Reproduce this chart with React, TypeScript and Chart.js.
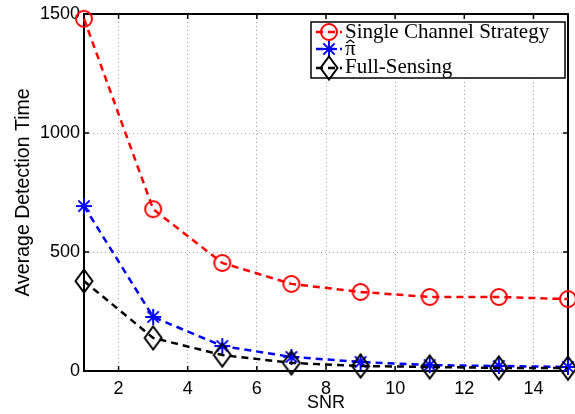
import React, { useEffect, useRef } from "react";
import { Chart, registerables } from "chart.js";

Chart.register(...registerables);

// SNR sample points and average detection times per strategy
const snr = [1, 3, 5, 7, 9, 11, 13, 15];
const singleChannel = [1480, 680, 454, 366, 332, 311, 311, 302];
const piHat = [693, 227, 105, 59, 38, 25, 21, 17];
const fullSensing = [378, 139, 67, 34, 21, 17, 13, 12];

const xTicks = [2, 4, 6, 8, 10, 12, 14];
const yTicks = [0, 500, 1000, 1500];
const seriesNames = ["Single Channel Strategy", "\u03C0", "Full-Sensing"];

const RED = "#ff0000";
const BLUE = "#0000ff";
const BLACK = "#000000";
const SANS = "'Liberation Sans', Arial, sans-serif";
const SERIF = "'Liberation Serif', 'DejaVu Serif', serif";

function sprite(w: number, h: number, paint: (g: CanvasRenderingContext2D) => void) {
  const c = document.createElement("canvas");
  c.width = w;
  c.height = h;
  const g = c.getContext("2d")!;
  g.lineWidth = 2;
  paint(g);
  return c;
}

// open circle marker
const makeCircle = () =>
  sprite(20, 20, (g) => {
    g.strokeStyle = RED;
    g.beginPath();
    g.arc(10, 10, 8, 0, Math.PI * 2);
    g.stroke();
  });

// eight-ray asterisk marker
const makeStar = () =>
  sprite(20, 20, (g) => {
    g.strokeStyle = BLUE;
    const r = 8;
    const d = r * Math.SQRT1_2;
    g.beginPath();
    g.moveTo(10 - r, 10); g.lineTo(10 + r, 10);
    g.moveTo(10, 10 - r); g.lineTo(10, 10 + r);
    g.moveTo(10 - d, 10 - d); g.lineTo(10 + d, 10 + d);
    g.moveTo(10 - d, 10 + d); g.lineTo(10 + d, 10 - d);
    g.stroke();
  });

// tall open diamond marker
const makeDiamond = () =>
  sprite(22, 28, (g) => {
    g.strokeStyle = BLACK;
    g.beginPath();
    g.moveTo(11, 2.5);
    g.lineTo(19.5, 14);
    g.lineTo(11, 25.5);
    g.lineTo(2.5, 14);
    g.closePath();
    g.stroke();
  });

export default function App() {
  const ref = useRef<HTMLCanvasElement | null>(null);

  useEffect(() => {
    const canvas = ref.current;
    if (!canvas) return;
    const circle = makeCircle();
    const star = makeStar();
    const diamond = makeDiamond();

    // axes box with inward ticks on all four sides
    const framePlugin = {
      id: "frame",
      beforeDatasetsDraw(chart: any) {
        const { ctx, chartArea: a, scales } = chart;
        ctx.save();
        ctx.strokeStyle = BLACK;
        ctx.lineWidth = 2;
        ctx.strokeRect(a.left, a.top, a.right - a.left, a.bottom - a.top);
        ctx.lineWidth = 1.5;
        ctx.beginPath();
        const tl = 5;
        for (const v of xTicks) {
          const px = scales.x.getPixelForValue(v);
          ctx.moveTo(px, a.bottom); ctx.lineTo(px, a.bottom - tl);
          ctx.moveTo(px, a.top); ctx.lineTo(px, a.top + tl);
        }
        for (const v of yTicks) {
          const py = scales.y.getPixelForValue(v);
          ctx.moveTo(a.left, py); ctx.lineTo(a.left + tl, py);
          ctx.moveTo(a.right, py); ctx.lineTo(a.right - tl, py);
        }
        ctx.stroke();
        ctx.restore();
      },
    };

    // boxed legend in the upper right corner
    const legendPlugin = {
      id: "boxLegend",
      afterDraw(chart: any) {
        const { ctx, chartArea: a } = chart;
        const x0 = a.left + 227;
        const y0 = a.top + 8;
        const w = 254;
        const h = 56;
        ctx.save();
        ctx.fillStyle = "#ffffff";
        ctx.fillRect(x0, y0, w, h);
        ctx.strokeStyle = BLACK;
        ctx.lineWidth = 1.5;
        ctx.strokeRect(x0, y0, w, h);
        const rows = [y0 + 10, y0 + 27, y0 + 46];
        const colors = [RED, BLUE, BLACK];
        const marks = [circle, star, diamond];
        ctx.lineWidth = 2.5;
        rows.forEach((ry, i) => {
          ctx.strokeStyle = colors[i];
          ctx.setLineDash([7, 5]);
          ctx.beginPath();
          ctx.moveTo(x0 + 5, ry);
          ctx.lineTo(x0 + 31, ry);
          ctx.stroke();
          ctx.setLineDash([]);
          const m = marks[i];
          ctx.drawImage(m, x0 + 18 - m.width / 2, ry - m.height / 2);
        });
        ctx.fillStyle = BLACK;
        ctx.font = `21px ${SERIF}`;
        ctx.textBaseline = "alphabetic";
        ctx.textAlign = "left";
        const tx = x0 + 34;
        ctx.fillText(seriesNames[0], tx, rows[0] + 6);
        ctx.fillText(seriesNames[1], tx, rows[1] + 6);
        ctx.fillText(seriesNames[2], tx, rows[2] + 5);
        // hat accent over the pi symbol
        const pw = ctx.measureText(seriesNames[1]).width;
        const hx = tx + pw / 2;
        const hy = rows[1] - 9;
        ctx.strokeStyle = BLACK;
        ctx.lineWidth = 1.1;
        ctx.beginPath();
        ctx.moveTo(hx - 4, hy + 3);
        ctx.lineTo(hx, hy);
        ctx.lineTo(hx + 4, hy + 3);
        ctx.stroke();
        ctx.restore();
      },
    };

    const line = (data: number[], color: string, pointStyle: HTMLCanvasElement) => ({
      data: snr.map((x, i) => ({ x, y: data[i] })),
      borderColor: color,
      backgroundColor: "rgba(0,0,0,0)",
      borderWidth: 2.5,
      borderDash: [7, 5],
      pointStyle,
      pointRadius: 0.5,
      pointBorderWidth: 0,
      tension: 0,
      clip: false as any,
    });

    const chart = new Chart(canvas, {
      type: "line",
      data: {
        datasets: [
          line(fullSensing, BLACK, diamond),
          line(piHat, BLUE, star),
          line(singleChannel, RED, circle),
        ],
      },
      options: {
        animation: false,
        responsive: false,
        maintainAspectRatio: false,
        layout: { padding: { left: 0, top: 14, right: 7, bottom: 0 } },
        plugins: { legend: { display: false }, tooltip: { enabled: false } },
        scales: {
          x: {
            type: "linear",
            min: 1,
            max: 15,
            afterBuildTicks: (s: any) => {
              s.ticks = xTicks.map((v) => ({ value: v }));
            },
            afterFit: (s: any) => {
              s.height = 43;
              s.paddingLeft = 0;
              s.paddingRight = 0;
            },
            grid: { color: "#a0a0a0", lineWidth: 1, drawTicks: false },
            border: { display: true, color: BLACK, width: 2, dash: [1, 3] },
            ticks: { color: BLACK, font: { family: SANS, size: 18 }, padding: 7, maxRotation: 0 },
            title: {
              display: true,
              text: "SNR",
              color: BLACK,
              font: { family: SANS, size: 18 },
              padding: { top: 0, bottom: 0 },
            },
          },
          y: {
            type: "linear",
            min: 0,
            max: 1500,
            afterBuildTicks: (s: any) => {
              s.ticks = yTicks.map((v) => ({ value: v }));
            },
            afterFit: (s: any) => {
              s.width = 84;
              s.paddingTop = 0;
              s.paddingBottom = 0;
            },
            grid: { color: "#a0a0a0", lineWidth: 1, drawTicks: false },
            border: { display: true, color: BLACK, width: 2, dash: [1, 3] },
            ticks: {
              color: BLACK,
              font: { family: SANS, size: 18 },
              padding: 4,
              callback: (v: any) => String(v),
            },
            title: {
              display: true,
              text: "Average Detection Time",
              color: BLACK,
              font: { family: SANS, size: 19.5 },
              padding: { top: 12, bottom: 0 },
            },
          },
        },
      },
      plugins: [framePlugin, legendPlugin],
    });

    return () => chart.destroy();
  }, []);

  return (
    <div style={{ position: "fixed", left: 0, top: 0, width: 575, height: 414, background: "#ffffff" }}>
      <canvas ref={ref} width={575} height={414} style={{ display: "block", width: 575, height: 414 }} />
    </div>
  );
}
